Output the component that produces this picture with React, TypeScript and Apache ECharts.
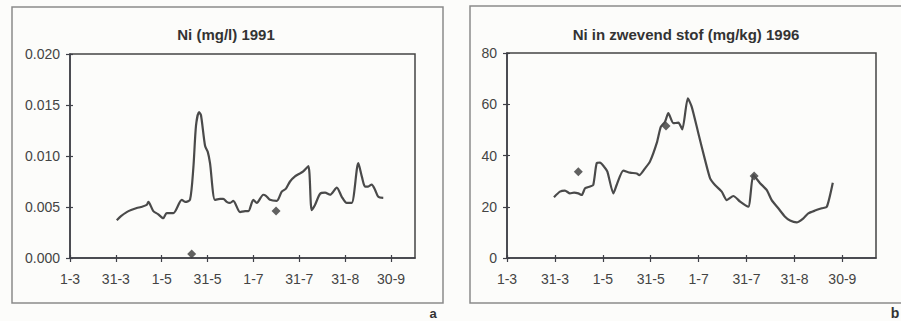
import React, { useEffect, useRef } from "react";
import * as echarts from "echarts";

// x values are days after 1 March
const tickLabels = ["1-3", "31-3", "1-5", "31-5", "1-7", "31-7", "31-8", "30-9"];
const tickDays = [0, 30.5, 61, 91.5, 122, 152.5, 183, 213.5];

const niDays1991 = [31.1, 33.9, 37.7, 40.6, 44.4, 47.2, 51.0, 52.1, 55.4, 58.5, 62.0, 64.3, 68.7, 74.3, 76.5, 79.8, 82.0, 83.8, 85.8, 87.1, 89.8, 91.6, 93.1, 96.4, 99.8, 101.9, 104.2, 106.4, 108.6, 113.1, 116.4, 118.6, 121.9, 124.2, 128.5, 130.3, 133.0, 137.5, 140.8, 143.6, 146.3, 149.6, 153.0, 155.1, 158.5, 160.7, 162.9, 166.3, 169.6, 172.9, 177.4, 180.7, 184.0, 187.3, 191.7, 194.2, 196.2, 198.2, 200.6, 202.8, 205.0, 208.3];
const niValues1991 = [0.0037, 0.0041, 0.0045, 0.0047, 0.0049, 0.005, 0.0052, 0.0055, 0.0046, 0.0043, 0.0039, 0.0044, 0.0044, 0.0057, 0.0055, 0.0057, 0.0088, 0.013, 0.0143, 0.014, 0.011, 0.0104, 0.0093, 0.0057, 0.0058, 0.0058, 0.0055, 0.0054, 0.0056, 0.0045, 0.0046, 0.0046, 0.0057, 0.0054, 0.0062, 0.0061, 0.0057, 0.0056, 0.0065, 0.0068, 0.0075, 0.008, 0.0083, 0.0085, 0.009, 0.0047, 0.0052, 0.0063, 0.0064, 0.0062, 0.0069, 0.006, 0.0054, 0.0054, 0.0093, 0.0079, 0.007, 0.007, 0.0072, 0.0067, 0.006, 0.0059];
const niPointDays1991 = [80.9, 137.0];
const niPointValues1991 = [0.0004, 0.0046];

const stofDays1996 = [29.9, 33.7, 36.9, 40.1, 42.7, 45.4, 47.6, 49.7, 52.8, 54.9, 57.1, 59.2, 61.8, 63.9, 67.7, 69.8, 74.0, 78.3, 82.6, 84.2, 87.9, 91.0, 95.3, 97.9, 100.6, 102.7, 105.9, 109.1, 111.6, 115.1, 117.6, 121.8, 126.1, 129.3, 132.4, 136.7, 139.9, 144.1, 148.4, 153.6, 156.8, 161.1, 165.4, 168.5, 172.7, 177.0, 180.2, 184.4, 188.7, 191.8, 196.1, 200.4, 203.6, 207.4];
const stofValues1996 = [23.7, 25.9, 26.3, 25.2, 25.5, 25.2, 24.6, 27.2, 27.9, 28.5, 37.0, 37.2, 35.6, 33.7, 25.2, 28.5, 34.1, 33.3, 33.0, 32.3, 35.0, 37.6, 44.8, 51.2, 53.2, 56.5, 52.6, 52.8, 50.2, 62.3, 59.0, 48.7, 38.2, 31.1, 28.5, 25.9, 22.6, 24.2, 22.0, 20.0, 32.4, 29.2, 26.5, 22.6, 19.4, 16.1, 14.6, 13.9, 15.5, 17.4, 18.5, 19.4, 20.0, 29.4];
const stofPointDays1996 = [45.4, 101.2, 157.3];
const stofPointValues1996 = [33.7, 51.5, 32.0];

const titleA = "Ni (mg/l) 1991";
const titleB = "Ni in zwevend stof (mg/kg) 1996";

const FONT = "Liberation Sans, Arial, sans-serif";
const LINE = "#4a4a4a";
const AXIS = "#3f4048";

function zip(xs: number[], ys: number[]) {
  return xs.map((x, i) => [x, ys[i]]);
}

function xAxes(gridIndex: number, max: number) {
  const base = {
    type: "value" as const,
    gridIndex,
    min: 0,
    max,
    interval: 30.5,
    splitLine: { show: false },
  };
  return [
    {
      ...base,
      axisLine: { show: true, onZero: false, lineStyle: { color: AXIS, width: 1.5 } },
      axisTick: { show: true, length: 4, customValues: tickDays, lineStyle: { color: AXIS, width: 1.2 } },
      axisLabel: {
        show: true,
        margin: 14,
        customValues: tickDays,
        fontFamily: FONT,
        fontSize: 14,
        color: "#444",
        formatter: (v: number) => tickLabels[Math.round(v / 30.5)] ?? "",
      },
    },
    {
      ...base,
      position: "bottom",
      axisLine: { show: false },
      axisTick: { show: true, inside: true, length: 3, customValues: tickDays, lineStyle: { color: AXIS, width: 1.2 } },
      axisLabel: { show: false },
    },
  ];
}

function yAxes(gridIndex: number, max: number, interval: number, digits: number) {
  const base = {
    type: "value" as const,
    gridIndex,
    min: 0,
    max,
    interval,
    splitLine: { show: false },
  };
  return [
    {
      ...base,
      axisLine: { show: true, onZero: false, lineStyle: { color: AXIS, width: 1.5 } },
      axisTick: { show: true, length: 4, lineStyle: { color: AXIS, width: 1.2 } },
      axisLabel: {
        show: true,
        margin: 10,
        fontFamily: FONT,
        fontSize: 14,
        color: "#444",
        formatter: (v: number) => v.toFixed(digits),
      },
    },
    {
      ...base,
      position: "left",
      axisLine: { show: false },
      axisTick: { show: true, inside: true, length: 3, lineStyle: { color: AXIS, width: 1.2 } },
      axisLabel: { show: false },
    },
  ];
}

export default function App() {
  const ref = useRef<HTMLDivElement>(null);
  useEffect(() => {
    document.body.style.margin = "0";
    const chart = echarts.init(ref.current!, undefined, { renderer: "svg" });
    chart.setOption({
      animation: false,
      backgroundColor: "#fcfcfa",
      grid: [
        { left: 70, top: 54, width: 345, height: 204, show: true, borderColor: "#444", borderWidth: 1.5, backgroundColor: "transparent" },
        { left: 507, top: 53, width: 369, height: 205, show: true, borderColor: "#444", borderWidth: 1.5, backgroundColor: "transparent" },
      ],
      xAxis: [...xAxes(0, 229.4), ...xAxes(1, 234.9)],
      yAxis: [...yAxes(0, 0.02, 0.005, 3), ...yAxes(1, 80, 20, 0)],
      series: [
        {
          type: "line",
          xAxisIndex: 0,
          yAxisIndex: 0,
          data: zip(niDays1991, niValues1991),
          showSymbol: false,
          smooth: 0.25,
          lineStyle: { color: LINE, width: 2.2 },
        },
        {
          type: "scatter",
          xAxisIndex: 0,
          yAxisIndex: 0,
          data: zip(niPointDays1991, niPointValues1991),
          symbol: "diamond",
          symbolSize: 9,
          itemStyle: { color: "#3a3a3a" },
        },
        {
          type: "line",
          xAxisIndex: 2,
          yAxisIndex: 2,
          data: zip(stofDays1996, stofValues1996),
          showSymbol: false,
          smooth: 0.2,
          lineStyle: { color: LINE, width: 2.2 },
        },
        {
          type: "scatter",
          xAxisIndex: 2,
          yAxisIndex: 2,
          data: zip(stofPointDays1996, stofPointValues1996),
          symbol: "diamond",
          symbolSize: 9,
          itemStyle: { color: "#3a3a3a" },
        },
      ],
      graphic: [
        { type: "rect", shape: { x: 12, y: 7, width: 431, height: 296 }, style: { fill: "none", stroke: "#8a8a8a", lineWidth: 1.5 }, z: -1 },
        { type: "rect", shape: { x: 470, y: 6, width: 440, height: 297 }, style: { fill: "none", stroke: "#8a8a8a", lineWidth: 1.5 }, z: -1 },
        { type: "text", x: 226, y: 34, style: { text: titleA, font: `bold 15px ${FONT}`, fill: "#333", textAlign: "center", textVerticalAlign: "middle" } },
        { type: "text", x: 686, y: 34, style: { text: titleB, font: `bold 15px ${FONT}`, fill: "#333", textAlign: "center", textVerticalAlign: "middle" } },
        { type: "text", x: 433, y: 313, style: { text: "a", font: `bold 13px ${FONT}`, fill: "#333", textAlign: "center", textVerticalAlign: "middle" } },
        { type: "text", x: 895, y: 313, style: { text: "b", font: `bold 14px ${FONT}`, fill: "#333", textAlign: "center", textVerticalAlign: "middle" } },
      ],
    });
    return () => chart.dispose();
  }, []);
  return <div ref={ref} style={{ width: 901, height: 321 }} />;
}
